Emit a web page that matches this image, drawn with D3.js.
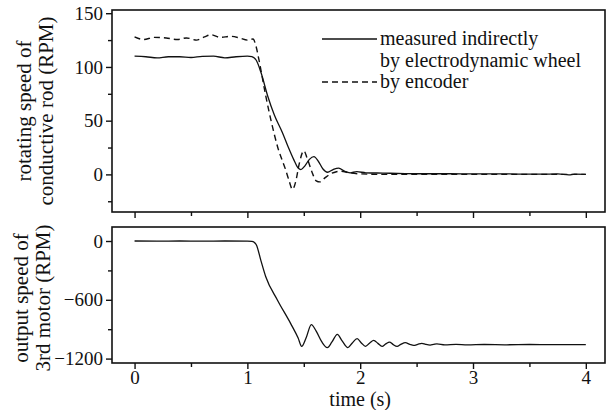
<!DOCTYPE html>
<html>
<head>
<meta charset="utf-8">
<script src="https://cdn.jsdelivr.net/npm/d3@7"></script>
</head>
<body style="margin:0">
<svg id="chart" width="609" height="410"></svg>
<script>
// time (s) and values
const rodTime = [0, 0.1, 0.2, 0.3, 0.4, 0.5, 0.6, 0.7, 0.8, 0.9, 1.0, 1.04, 1.08, 1.12, 1.18, 1.24, 1.31, 1.36, 1.41, 1.45, 1.475, 1.51, 1.55, 1.59, 1.63, 1.67, 1.71, 1.76, 1.81, 1.86, 1.91, 1.97, 2.05, 2.2, 2.4, 2.6, 2.8, 3.0, 3.2, 3.4, 3.6, 3.75, 3.85, 3.9, 4.0];
const rodMeasured = [110, 109.5, 108.5, 109.5, 109.5, 108.8, 109.8, 110, 108.5, 109.5, 110, 109.5, 106, 95, 73, 55, 39, 26, 14, 6, 4.5, 8, 14, 16.5, 12, 5, 2, 4.5, 5.8, 3, 1.5, 2.5, 1.5, 1.2, 0.8, 0.6, 0.6, 0.4, 0.5, 0.3, 0.2, 0.4, -0.5, 0.2, 0];

const encTime = [0, 0.08, 0.17, 0.28, 0.38, 0.46, 0.55, 0.62, 0.68, 0.76, 0.85, 0.93, 1.0, 1.05, 1.075, 1.1, 1.163, 1.21, 1.267, 1.34, 1.37, 1.4, 1.43, 1.46, 1.5, 1.53, 1.57, 1.61, 1.643, 1.69, 1.737, 1.79, 1.83, 1.9, 2.0, 2.2, 2.5, 3.0, 3.5, 4.0];
const rodEncoder = [128, 125.5, 127.5, 127, 125.5, 127, 125, 128, 130, 127.5, 128.5, 127, 125, 126, 120, 108, 73, 50, 26, 4, -6, -14, -6, 10, 22, 15, 3, -6, -7, -3, 0.5, 2.5, 3, 1.5, 0.5, 0, 0, 0, 0, 0];

const motorTime = [0, 0.2, 0.4, 0.6, 0.8, 1.0, 1.04, 1.06, 1.08, 1.12, 1.163, 1.267, 1.384, 1.45, 1.481, 1.52, 1.567, 1.61, 1.66, 1.708, 1.75, 1.797, 1.84, 1.891, 1.93, 1.973, 2.01, 2.047, 2.085, 2.12, 2.157, 2.194, 2.227, 2.26, 2.29, 2.327, 2.36, 2.4, 2.44, 2.474, 2.51, 2.547, 2.58, 2.62, 2.65, 2.68, 2.75, 2.85, 2.95, 3.1, 3.3, 3.5, 3.7, 4.0];
const motorSpeed = [0, -2, 0, -2, 0, -1, -3, -12, -40, -200, -365, -604, -843, -990, -1075, -990, -853, -920, -1030, -1088, -1030, -952, -1020, -1088, -1040, -997, -1040, -1075, -1040, -1014, -1045, -1075, -1050, -1031, -1055, -1075, -1055, -1038, -1055, -1065, -1055, -1045, -1055, -1062, -1056, -1050, -1060, -1054, -1060, -1056, -1059, -1056, -1058, -1057];

const timeTicks = [0, 1, 2, 3, 4];
const timeMinor = [0.5, 1.5, 2.5, 3.5];
const rodTicks = [0, 50, 100, 150];
const rodMinor = [-25, 25, 75, 125];
const motorTicks = [0, -600, -1200];
const motorMinor = [-300, -900];

const SERIF = '"Liberation Serif"';
const INK = '#111';

const svg = d3.select('#chart');
const left = 112, right = 605;

const x = d3.scaleLinear().domain([-0.2, 4.17]).range([left, right]);
const yTop = d3.scaleLinear().domain([-35, 153]).range([212, 10]);
const yBot = d3.scaleLinear().domain([-1245, 143]).range([363, 227]);

function styleAxis(a) {
  // drop d3's default sans-serif attributes on the axis group
  a.attr('font-family', null).attr('font-size', null);
  a.select('.domain').remove();
  a.selectAll('line').attr('stroke', INK).attr('stroke-width', 1.4);
  a.selectAll('text')
    .attr('font-size', 19)
    .attr('fill', INK)
    .style('font-family', SERIF);
}

function panel(y, tickVals, minorVals, showXLabels) {
  const g = svg.append('g');
  const [y0, y1] = y.range();

  g.append('g')
    .attr('transform', `translate(0,${y0})`)
    .call(d3.axisBottom(x).tickValues(timeTicks).tickSize(6).tickPadding(2)
      .tickFormat(showXLabels ? d3.format('d') : ''))
    .call(styleAxis);

  g.append('g')
    .attr('transform', `translate(0,${y0})`)
    .call(d3.axisBottom(x).tickValues(timeMinor).tickSize(4).tickFormat(''))
    .call(styleAxis);

  g.append('g')
    .attr('transform', `translate(${left},0)`)
    .call(d3.axisLeft(y).tickValues(tickVals).tickSize(6).tickPadding(3).tickFormat(d3.format('d')))
    .call(styleAxis);

  g.append('g')
    .attr('transform', `translate(${left},0)`)
    .call(d3.axisLeft(y).tickValues(minorVals).tickSize(4).tickFormat(''))
    .call(styleAxis);

  g.append('rect')
    .attr('x', left).attr('y', y1)
    .attr('width', right - left).attr('height', y0 - y1)
    .attr('fill', 'none').attr('stroke', INK).attr('stroke-width', 1.6);
  return g;
}

const topPanel = panel(yTop, rodTicks, rodMinor, false);
const botPanel = panel(yBot, motorTicks, motorMinor, true);

const lineTop = d3.line().x((d) => x(d[0])).y((d) => yTop(d[1])).curve(d3.curveMonotoneX);
const lineBot = d3.line().x((d) => x(d[0])).y((d) => yBot(d[1])).curve(d3.curveMonotoneX);

topPanel.append('path')
  .datum(d3.zip(encTime, rodEncoder))
  .attr('d', lineTop)
  .attr('fill', 'none').attr('stroke', INK).attr('stroke-width', 1.4)
  .attr('stroke-dasharray', '6,4');

topPanel.append('path')
  .datum(d3.zip(rodTime, rodMeasured))
  .attr('d', lineTop)
  .attr('fill', 'none').attr('stroke', INK).attr('stroke-width', 1.3);

botPanel.append('path')
  .datum(d3.zip(motorTime, motorSpeed))
  .attr('d', lineBot)
  .attr('fill', 'none').attr('stroke', INK).attr('stroke-width', 1.3);

// legend
const legend = svg.append('g').attr('transform', 'translate(322,39)');
legend.append('line').attr('x1', 0).attr('x2', 55).attr('y1', 0).attr('y2', 0)
  .attr('stroke', INK).attr('stroke-width', 1.4);
legend.append('line').attr('x1', 0).attr('x2', 55).attr('y1', 43).attr('y2', 43)
  .attr('stroke', INK).attr('stroke-width', 1.4).attr('stroke-dasharray', '6,4');
const legendText = ['measured indirectly', 'by electrodynamic wheel', 'by encoder'];
legend.selectAll('text.lg')
  .data(legendText)
  .enter()
  .append('text')
  .attr('class', 'lg')
  .attr('x', 58)
  .attr('y', (d, i) => i * 21.5 + 6)
  .attr('font-size', 20)
  .attr('fill', INK)
  .style('font-family', SERIF)
  .text((d) => d);

// axis titles
function yTitle(lines, cx, cy) {
  svg.append('text')
    .attr('transform', `translate(${cx},${cy}) rotate(-90)`)
    .attr('text-anchor', 'middle')
    .attr('font-size', 21)
    .attr('fill', INK)
    .style('font-family', SERIF)
    .selectAll('tspan')
    .data(lines)
    .enter()
    .append('tspan')
    .attr('x', 0)
    .attr('dy', (d, i) => (i === 0 ? 0 : 22))
    .text((d) => d);
}
yTitle(['rotating speed of', 'conductive rod (RPM)'], 31, 111);
yTitle(['output speed of', '3rd motor (RPM)'], 28, 298);

svg.append('text')
  .attr('x', x(2)).attr('y', 406)
  .attr('text-anchor', 'middle')
  .attr('font-size', 20)
  .attr('fill', INK)
  .style('font-family', SERIF)
  .text('time (s)');
</script>
</body>
</html>
